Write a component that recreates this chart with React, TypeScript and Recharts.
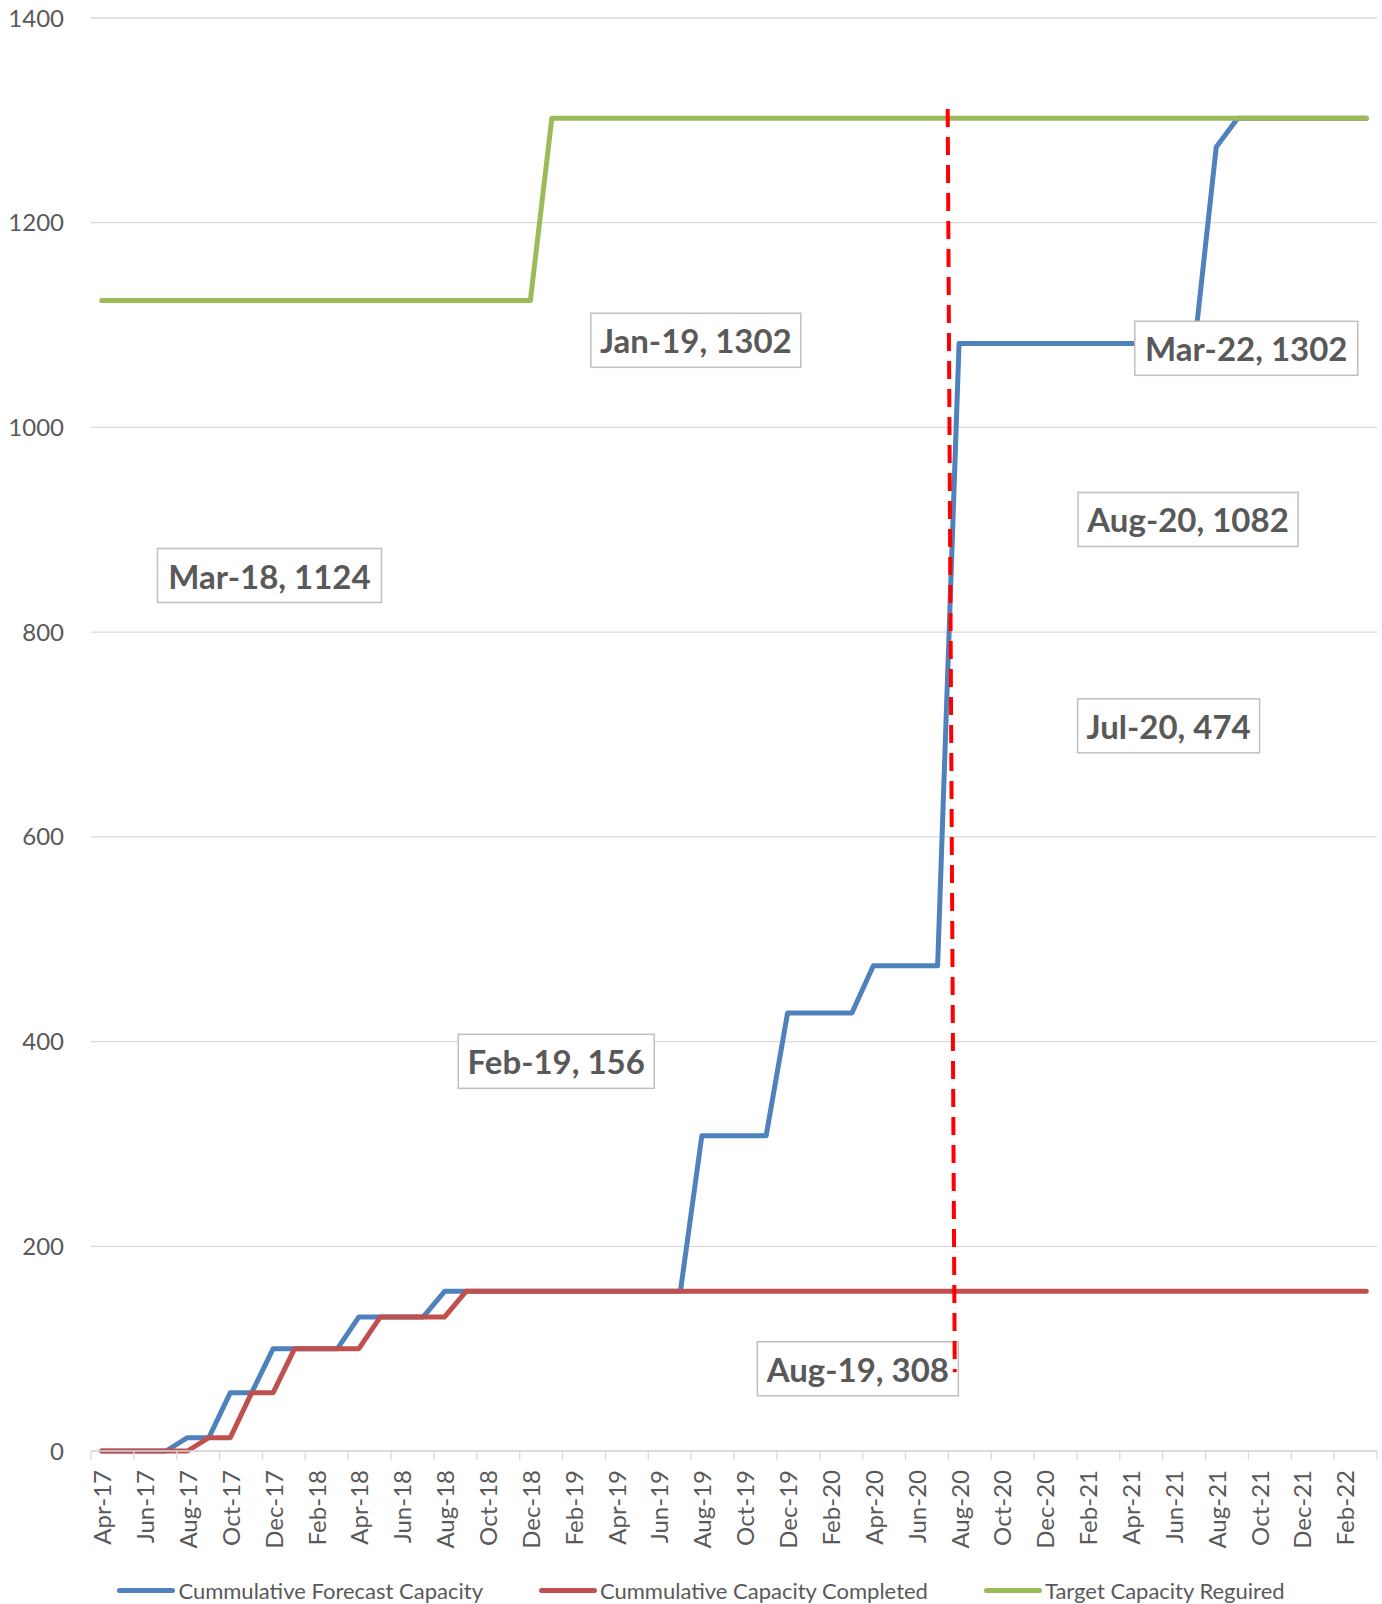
import React from "react";
import {
  LineChart,
  Line,
  XAxis,
  YAxis,
  CartesianGrid,
  Legend,
  LabelList,
  ReferenceLine,
} from "recharts";

// categories: one per month, Apr-17 .. Mar-22
const months = [
  "Apr-17", "May-17", "Jun-17", "Jul-17", "Aug-17", "Sep-17", "Oct-17", "Nov-17", "Dec-17", "Jan-18", "Feb-18", "Mar-18",
  "Apr-18", "May-18", "Jun-18", "Jul-18", "Aug-18", "Sep-18", "Oct-18", "Nov-18", "Dec-18", "Jan-19", "Feb-19", "Mar-19",
  "Apr-19", "May-19", "Jun-19", "Jul-19", "Aug-19", "Sep-19", "Oct-19", "Nov-19", "Dec-19", "Jan-20", "Feb-20", "Mar-20",
  "Apr-20", "May-20", "Jun-20", "Jul-20", "Aug-20", "Sep-20", "Oct-20", "Nov-20", "Dec-20", "Jan-21", "Feb-21", "Mar-21",
  "Apr-21", "May-21", "Jun-21", "Jul-21", "Aug-21", "Sep-21", "Oct-21", "Nov-21", "Dec-21", "Jan-22", "Feb-22", "Mar-22",
];

const forecastCapacity = [
  0, 0, 0, 0, 13, 13, 57, 57, 100, 100, 100, 100,
  131, 131, 131, 131, 156, 156, 156, 156, 156, 156, 156, 156,
  156, 156, 156, 156, 308, 308, 308, 308, 428, 428, 428, 428,
  474, 474, 474, 474, 1082, 1082, 1082, 1082, 1082, 1082, 1082, 1082,
  1082, 1082, 1082, 1082, 1274, 1302, 1302, 1302, 1302, 1302, 1302, 1302,
];

const completedCapacity = [
  0, 0, 0, 0, 0, 13, 13, 57, 57, 100, 100, 100,
  100, 131, 131, 131, 131, 156, 156, 156, 156, 156, 156, 156,
  156, 156, 156, 156, 156, 156, 156, 156, 156, 156, 156, 156,
  156, 156, 156, 156, 156, 156, 156, 156, 156, 156, 156, 156,
  156, 156, 156, 156, 156, 156, 156, 156, 156, 156, 156, 156,
];

const targetCapacity = [
  1124, 1124, 1124, 1124, 1124, 1124, 1124, 1124, 1124, 1124, 1124, 1124,
  1124, 1124, 1124, 1124, 1124, 1124, 1124, 1124, 1124, 1302, 1302, 1302,
  1302, 1302, 1302, 1302, 1302, 1302, 1302, 1302, 1302, 1302, 1302, 1302,
  1302, 1302, 1302, 1302, 1302, 1302, 1302, 1302, 1302, 1302, 1302, 1302,
  1302, 1302, 1302, 1302, 1302, 1302, 1302, 1302, 1302, 1302, 1302, 1302,
];

const seriesNames = [
  "Cummulative Forecast Capacity",
  "Cummulative Capacity Completed",
  "Target Capacity Reguired",
];

const yTicks = [0, 200, 400, 600, 800, 1000, 1200, 1400];

// dashed "today" marker (x in month-index units)
const milestoneLine = [
  { x: 39.47, y: 1311 },
  { x: 39.8, y: 77 },
];

const data = months.map((m, i) => ({
  i,
  month: m,
  forecast: forecastCapacity[i],
  completed: completedCapacity[i],
  target: targetCapacity[i],
}));

// layout
const W = 1382;
const H = 1604;
const PLOT_LEFT = 91;
const PLOT_RIGHT = 1377;
const BAND = (PLOT_RIGHT - PLOT_LEFT) / months.length;
const TEXT = "#595959";
const GRID = "#d9d9d9";

// tick marks between every second month, plus the closing one
const xTicks = months
  .map((_, i) => i - 0.5)
  .filter((_, i) => i % 2 === 0)
  .concat(months.length - 0.5);

// data-label boxes: offset of box centre from its point, box width
const callouts = [
  { series: "target", month: "Mar-18", dx: -68, dy: 275, w: 224 },
  { series: "target", month: "Jan-19", dx: 144, dy: 222, w: 210 },
  { series: "completed", month: "Feb-19", dx: -17, dy: -230, w: 196 },
  { series: "forecast", month: "Aug-19", dx: 156, dy: 233, w: 201 },
  { series: "forecast", month: "Jul-20", dx: 231, dy: -240, w: 182 },
  { series: "forecast", month: "Aug-20", dx: 229, dy: 176, w: 220 },
  { series: "forecast", month: "Mar-22", dx: -120, dy: 230, w: 223 },
];

const MonthTick = (props: any) => {
  const { x, y, payload } = props;
  const idx = Math.round(payload.value + 0.5);
  if (idx < 0 || idx >= months.length) return <g />;
  return (
    <text
      transform={`translate(${x + BAND / 2},${y}) rotate(-90)`}
      textAnchor="end"
      dominantBaseline="central"
      fill={TEXT}
      fontSize={24}
      fontFamily="Lato"
    >
      {months[idx]}
    </text>
  );
};

const makeCallout = (series: string, values: number[]) => (props: any) => {
  const { x, y } = props;
  if (x == null || y == null) return null;
  const idx = Math.round((x - PLOT_LEFT) / BAND - 0.5);
  const c = callouts.find((k) => k.series === series && k.month === months[idx]);
  if (!c) return null;
  const cx = x + c.dx;
  const cy = y + c.dy;
  const h = 54;
  return (
    <g>
      <rect x={cx - c.w / 2} y={cy - h / 2} width={c.w} height={h} fill="#fff" stroke="#bfbfbf" strokeWidth={1.5} />
      <text
        x={cx}
        y={cy}
        textAnchor="middle"
        dominantBaseline="central"
        fill={TEXT}
        fontSize={33}
        fontWeight={700}
        fontFamily="Lato"
      >
        {`${months[idx]}, ${values[idx]}`}
      </text>
    </g>
  );
};

const LegendContent = (props: any) => {
  const items = [...(props.payload || [])].sort(
    (a: any, b: any) => seriesNames.indexOf(a.value) - seriesNames.indexOf(b.value)
  );
  return (
    <div
      style={{
        display: "flex",
        justifyContent: "center",
        gap: 56,
        fontFamily: "Lato",
        fontSize: 22,
        color: TEXT,
      }}
    >
      {items.map((it: any) => (
        <div key={it.value} style={{ display: "flex", alignItems: "center" }}>
          <span
            style={{
              display: "inline-block",
              width: 58,
              height: 5,
              borderRadius: 3,
              background: it.color,
              marginRight: 3,
            }}
          />
          <span>{it.value}</span>
        </div>
      ))}
    </div>
  );
};

export default function App() {
  return (
    <div style={{ position: "absolute", left: 0, top: 0, width: W, height: H, background: "#fff", fontFamily: "Lato" }}>
      <LineChart width={W} height={H} data={data} margin={{ top: 18, right: W - PLOT_RIGHT, bottom: 53, left: 0 }}>
        <CartesianGrid vertical={false} stroke={GRID} strokeWidth={1.3} />
        <XAxis
          dataKey="i"
          type="number"
          domain={[-0.5, months.length - 0.5]}
          ticks={xTicks}
          interval={0}
          height={100}
          stroke={GRID}
          strokeWidth={1.3}
          tickSize={9}
          tickMargin={10}
          tick={MonthTick}
        />
        <YAxis
          width={PLOT_LEFT}
          domain={[0, 1400]}
          ticks={yTicks}
          axisLine={false}
          tickLine={false}
          tickSize={0}
          tickMargin={27}
          tick={{ fill: TEXT, fontSize: 24, fontFamily: "Lato" }}
        />
        <Line
          dataKey="forecast"
          name={seriesNames[0]}
          stroke="#4F81BD"
          strokeWidth={5}
          strokeLinejoin="round"
          strokeLinecap="round"
          dot={false}
          isAnimationActive={false}
        >
          <LabelList dataKey="forecast" content={makeCallout("forecast", forecastCapacity)} />
        </Line>
        <Line
          dataKey="completed"
          name={seriesNames[1]}
          stroke="#C0504D"
          strokeWidth={5}
          strokeLinejoin="round"
          strokeLinecap="round"
          dot={false}
          isAnimationActive={false}
        >
          <LabelList dataKey="completed" content={makeCallout("completed", completedCapacity)} />
        </Line>
        <Line
          dataKey="target"
          name={seriesNames[2]}
          stroke="#9BBB59"
          strokeWidth={5}
          strokeLinejoin="round"
          strokeLinecap="round"
          dot={false}
          isAnimationActive={false}
        >
          <LabelList dataKey="target" content={makeCallout("target", targetCapacity)} />
        </Line>
        <ReferenceLine
          segment={milestoneLine}
          stroke="#FF0000"
          strokeWidth={4}
          strokeDasharray="18 10"
          ifOverflow="visible"
          {...({ zIndex: 3000 } as any)}
        />
        <Legend
          layout="horizontal"
          verticalAlign="middle"
          align="center"
          content={LegendContent}
          wrapperStyle={{ left: 20, top: 1577, width: W - 20 }}
        />
      </LineChart>
    </div>
  );
}
